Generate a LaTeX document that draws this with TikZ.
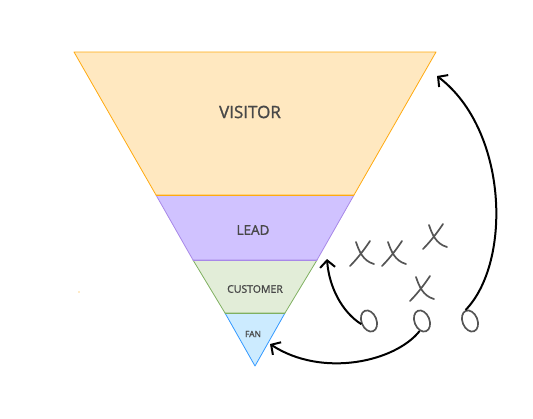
\documentclass[tikz,border=0pt]{standalone}
\usepackage{fontspec}
\setmainfont{Open Sans}
\newfontfamily\lblfont{Open Sans}[FakeBold=1.3]
\usetikzlibrary{arrows.meta,shapes.geometric}
\definecolor{visfill}{HTML}{FFE8C0}
\definecolor{visline}{HTML}{FFAA10}
\definecolor{leadfill}{HTML}{D0C2FF}
\definecolor{leadline}{HTML}{A888E8}
\definecolor{custfill}{HTML}{E2EDD8}
\definecolor{custline}{HTML}{7FB060}
\definecolor{fanfill}{HTML}{CCEBFF}
\definecolor{fanline}{HTML}{3399FF}
\definecolor{txt}{HTML}{484848}
\definecolor{hand}{HTML}{555555}
\begin{document}
\begin{tikzpicture}[x=1pt,y=-1pt,
  band/.style={line width=0.8pt, line join=round},
  lbl/.style={text=txt, inner sep=0pt},
  handline/.style={hand, line width=1.7pt, line cap=round},
  omk/.style={ellipse, draw=hand, line width=1.7pt, minimum width=15pt, minimum height=22pt, inner sep=0pt, rotate=22},
  arr/.style={line width=2pt, -{Straight Barb[length=7pt,width=15pt,line width=2pt]}},
]
\useasboundingbox (0,0) rectangle (533,418);
% funnel bands
\fill[visfill] (74,52) -- (436,52) -- (354,195) -- (156,195) -- cycle;
\draw[band, visline] (156,195) -- (74,52) -- (436,52) -- (354,195) -- cycle;
\fill[leadfill] (156,195) -- (354,195) -- (317,260) -- (193,260) -- cycle;
\draw[band, leadline] (156,195) -- (193,260) -- (317,260) -- (354,195);
\fill[custfill] (193,260) -- (317,260) -- (285,313) -- (225,313) -- cycle;
\draw[band, custline] (193,260) -- (225,313) -- (285,313) -- (317,260);
\fill[fanfill] (225,313) -- (285,313) -- (255,366) -- cycle;
\draw[band, fanline] (225,313) -- (255,366) -- (285,313);
\draw[band, visline] (156,195) -- (354,195);
\draw[band, leadline] (193,260) -- (317,260);
\draw[band, custline] (225,313) -- (285,313);
% labels
\node[lbl, font=\lblfont\fontsize{17}{17}\selectfont] (visitor) at (250,112) {VISITOR};
\node[lbl, font=\lblfont\fontsize{13.5}{13.5}\selectfont] (lead) at (253,230) {LEAD};
\node[lbl, font=\lblfont\fontsize{10.5}{10.5}\selectfont] (customer) at (255,289) {CUSTOMER};
\node[lbl, font=\lblfont\fontsize{8.5}{8.5}\selectfont] (fan) at (253,334) {FAN};
% tiny dot
\fill[visline] (79,292) circle (0.7pt);
% X marks
\foreach \n/\x/\y in {x1/362/253, x2/394/253, x3/435/236, x4/422/288}{
  \draw[handline]
    (\x+8,\y-12) .. controls (\x+2,\y-3) and (\x-5,\y+6) .. (\x-12,\y+13)
    (\x-6,\y-11) .. controls (\x-3,\y-2) and (\x+1,\y+8) .. (\x+12,\y+11);
  \coordinate (\n) at (\x,\y);
}
% O marks
\node[omk] (o1) at (369,321) {};
\node[omk] (o2) at (422,321) {};
\node[omk] (o3) at (470,321) {};
% funnel targets
\coordinate (tlead) at (327,259);
\coordinate (tfan) at (270,344);
\coordinate (tvis) at (437,76);
% arrows
\draw[arr] (o1.west) .. controls (342,312) and (329,287) .. (tlead);
\draw[arr] (o2.south west) .. controls (395,362) and (322,378) .. (tfan);
\draw[arr] (o3.north) .. controls (512,262) and (508,130) .. (tvis);
\end{tikzpicture}
\end{document}
